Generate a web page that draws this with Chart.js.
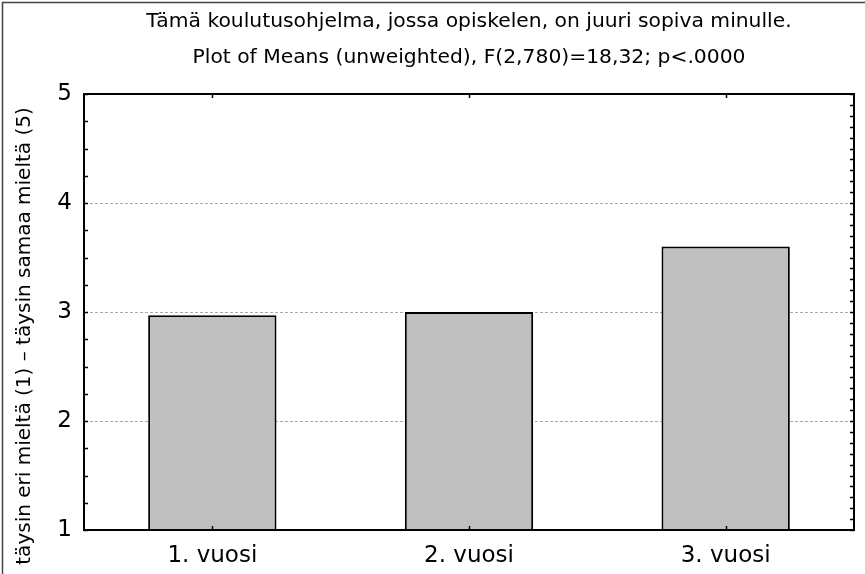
<!DOCTYPE html>
<html>
<head>
<meta charset="utf-8">
<script src="https://cdn.jsdelivr.net/npm/chart.js@4.4.1/dist/chart.umd.min.js"></script>
<style>
  html, body { margin: 0; padding: 0; background: #fff; }
  #wrap { width: 865px; height: 574px; }
</style>
</head>
<body>
<div id="wrap"><canvas id="meansChart" width="865" height="574"></canvas></div>
<script>
// chart data
const categories = ['1. vuosi', '2. vuosi', '3. vuosi'];
const means = [2.97, 3.0, 3.6];
const yMin = 1;
const yMax = 5;
const titleLines = [
  'Tämä koulutusohjelma, jossa opiskelen, on juuri sopiva minulle.',
  'Plot of Means (unweighted), F(2,780)=18,32; p<.0000'
];
const yTitle = 'täysin eri mieltä (1) – täysin samaa mieltä (5)';

const FONT = "'DejaVu Sans', Verdana, sans-serif";

// draws frame, inside ticks and the rotated y title
const frameTicks = {
  id: 'frameTicks',
  beforeDraw(chart) {
    const ctx = chart.ctx;
    ctx.save();
    ctx.strokeStyle = '#444';
    ctx.lineWidth = 1.5;
    ctx.beginPath();
    ctx.moveTo(2.5, chart.height);
    ctx.lineTo(2.5, 2.5);
    ctx.lineTo(chart.width, 2.5);
    ctx.stroke();
    ctx.restore();
  },
  afterDatasetsDraw(chart) {
    const { ctx, chartArea: a, scales } = chart;
    const y = scales.y, x = scales.x;
    ctx.save();
    ctx.strokeStyle = '#000';
    ctx.lineWidth = 1.5;
    ctx.beginPath();
    // left minor ticks every 0.25
    for (let v = yMin; v <= yMax + 1e-9; v += 0.25) {
      const py = Math.round(y.getPixelForValue(v)) + 0.5;
      ctx.moveTo(a.left, py); ctx.lineTo(a.left + 4, py);
    }
    // right ticks every 0.1
    for (let v = yMin; v <= yMax + 1e-9; v += 0.1) {
      const py = Math.round(y.getPixelForValue(v)) + 0.5;
      ctx.moveTo(a.right, py); ctx.lineTo(a.right - 4, py);
    }
    // top / bottom ticks at category centers
    categories.forEach((c, i) => {
      const px = Math.round(x.getPixelForValue(i)) + 0.5;
      ctx.moveTo(px, a.bottom); ctx.lineTo(px, a.bottom - 4);
      ctx.moveTo(px, a.top); ctx.lineTo(px, a.top + 4);
    });
    ctx.stroke();

    // plot frame
    ctx.lineWidth = 2;
    ctx.strokeRect(a.left, a.top, a.right - a.left, a.bottom - a.top);

    // y axis title
    ctx.fillStyle = '#000';
    ctx.font = '20px ' + FONT;
    ctx.textAlign = 'center';
    ctx.textBaseline = 'middle';
    ctx.translate(25, 336);
    ctx.rotate(-Math.PI / 2);
    ctx.fillText(yTitle, 0, 0);
    ctx.restore();
  }
};

new Chart(document.getElementById('meansChart'), {
  type: 'bar',
  data: {
    labels: categories,
    datasets: [{
      data: means,
      backgroundColor: '#c0c0c0',
      borderColor: '#000',
      borderWidth: 2,
      borderSkipped: false,
      categoryPercentage: 1,
      barPercentage: 0.5
    }]
  },
  options: {
    responsive: false,
    animation: false,
    devicePixelRatio: 1,
    layout: { padding: { left: 0, right: 11, top: 0, bottom: 0 } },
    plugins: {
      legend: { display: false },
      tooltip: { enabled: false },
      title: {
        display: true,
        fullSize: false,
        text: titleLines,
        color: '#000',
        font: { family: FONT, size: 20.3, weight: 'normal', lineHeight: 1.7734 },
        padding: { top: 4, bottom: 18 }
      }
    },
    scales: {
      x: {
        grid: { display: false, drawTicks: false },
        border: { display: true, color: '#000', width: 2 },
        ticks: { color: '#000', font: { family: FONT, size: 23 }, padding: 12 },
        afterFit(scale) { scale.height = 44; }
      },
      y: {
        min: yMin,
        max: yMax,
        grid: {
          drawTicks: false,
          color: ctx => (ctx.tick && ctx.tick.value > yMin && ctx.tick.value < yMax) ? '#aaa' : 'rgba(0,0,0,0)',
          lineWidth: 1
        },
        border: { display: true, color: '#000', width: 2, dash: [3, 2] },
        ticks: { stepSize: 1, color: '#000', font: { family: FONT, size: 23 }, padding: 12 },
        afterFit(scale) { scale.width = 84; }
      }
    }
  },
  plugins: [frameTicks]
});
</script>
</body>
</html>
